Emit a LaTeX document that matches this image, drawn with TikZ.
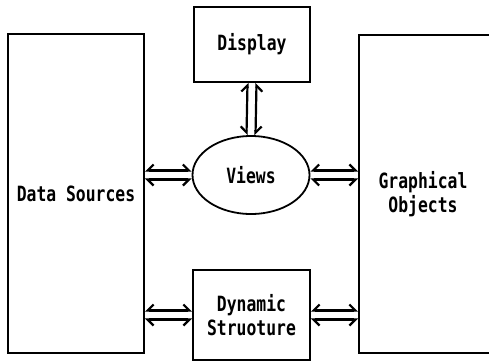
\documentclass[tikz,border=0pt]{standalone}
\usepackage{fontspec}
\newfontfamily\lblfont{DejaVu Sans Mono}[FakeStretch=0.78]
\usetikzlibrary{arrows.meta,shapes.geometric}
\begin{document}
\begin{tikzpicture}[x=1pt,y=-1pt,
  txt/.style={font=\lblfont\bfseries\fontsize{21}{24}\selectfont,align=center},
  box/.style={draw,line width=1.8pt,rectangle,inner sep=0pt,txt},
  lbl/.style={inner sep=0pt,txt},
  lpart/.style={line width=2.2pt,{Straight Barb[right,length=6pt,width=12pt]}-{Straight Barb[left,length=6pt,width=12pt]}},
  rpart/.style={line width=2.2pt,{Straight Barb[left,length=6pt,width=12pt]}-{Straight Barb[right,length=6pt,width=12pt]}},
  up/.style={transform canvas={yshift=4.5pt}},
  dn/.style={transform canvas={yshift=-4.5pt}},
  ea/.style={transform canvas={xshift=4.5pt}},
  we/.style={transform canvas={xshift=-4.5pt}}]
\useasboundingbox (0,0) rectangle (489,362);
\clip (0,0) rectangle (489,362);
\node[box,minimum width=136pt,minimum height=319pt] (ds) at (76,193.5) {Data Sources};
\node[box,minimum width=160pt,minimum height=318pt] (gobox) at (439,194) {};
\node[lbl] (go) at (423,194) {Graphical\\Objects};
\node[box,minimum width=116pt,minimum height=75pt] (disp) at (252,44.5) {Display};
\node[box,ellipse,minimum width=117pt,minimum height=78pt] (views) at (251,175) {Views};
\node[box,minimum width=117pt,minimum height=90pt] (dyn) at (251.5,315) {Dynamic\\Struoture};
% vertical Display <-> Views
\draw[lpart,ea] (disp.south) -- (views.north);
\draw[rpart,we] (disp.south) -- (views.north);
% Data Sources <-> Views
\draw[lpart,up] (views.west -| ds.east) -- (views.west);
\draw[rpart,dn] (views.west -| ds.east) -- (views.west);
% Views <-> Graphical Objects
\draw[lpart,up] (views.east) -- (views.east -| gobox.west);
\draw[rpart,dn] (views.east) -- (views.east -| gobox.west);
% Data Sources <-> Dynamic Structure
\draw[lpart,up] (dyn.west -| ds.east) -- (dyn.west);
\draw[rpart,dn] (dyn.west -| ds.east) -- (dyn.west);
% Dynamic Structure <-> Graphical Objects
\draw[lpart,up] (dyn.east) -- (dyn.east -| gobox.west);
\draw[rpart,dn] (dyn.east) -- (dyn.east -| gobox.west);
\end{tikzpicture}
\end{document}
